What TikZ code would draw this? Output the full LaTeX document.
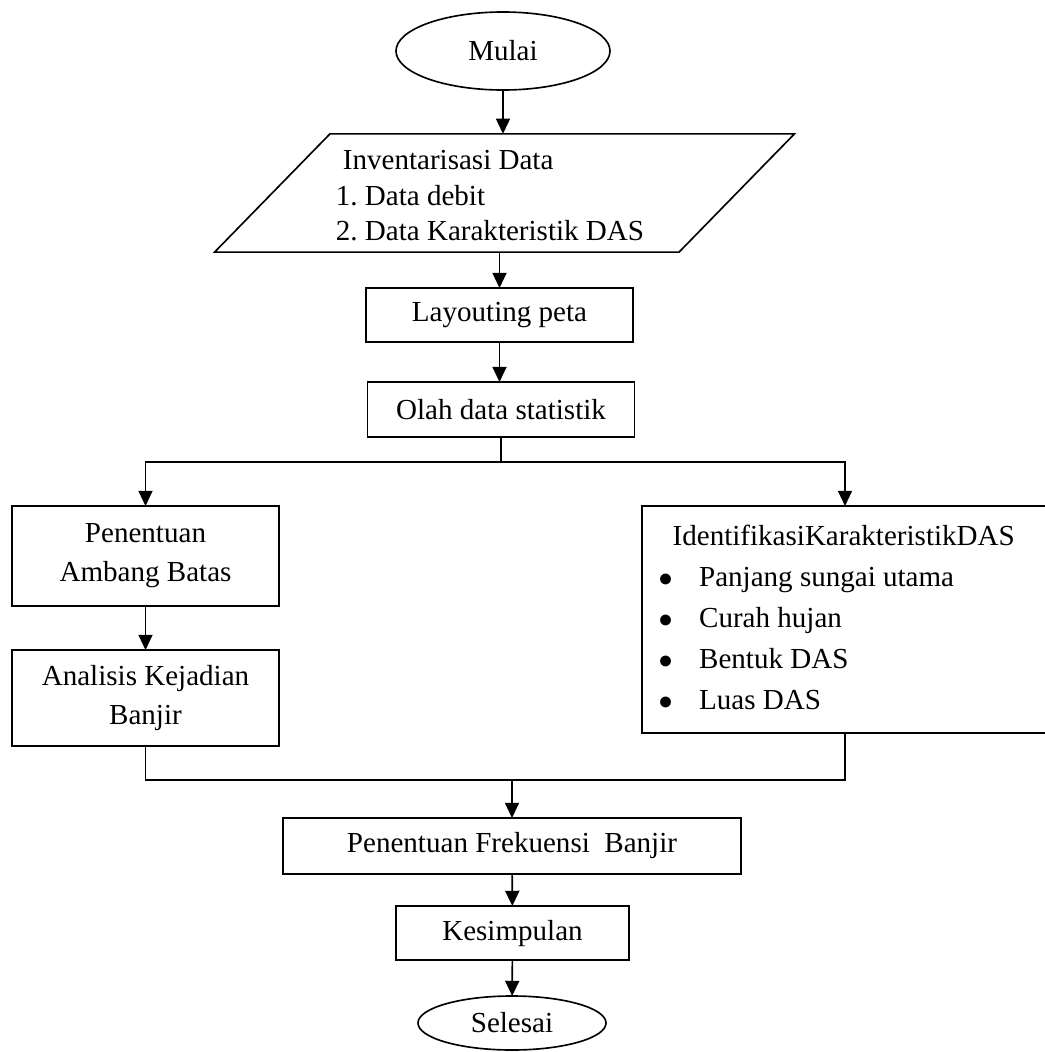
\documentclass[tikz,border=0pt]{standalone}
\usepackage{fontspec}
\setmainfont{Liberation Serif}
\usetikzlibrary{arrows.meta,shapes.geometric}

\begin{document}
\begin{tikzpicture}[x=0.015cm,y=-0.015cm,line width=0.7pt,
    every node/.style={font=\fontsize{12.4}{14.5}\selectfont,inner sep=0pt,outer sep=0pt},
    box/.style={draw,rectangle,align=center},
    term/.style={draw,ellipse},
    io/.style={draw,trapezium,trapezium left angle=45.7,trapezium right angle=134.3,inner xsep=2.5pt,inner ysep=0.6pt},
    arr/.style={-{Triangle[length=6.5pt,width=6pt]}}]
      \useasboundingbox (0,0) rectangle (1045,1052);
      \node[term,minimum width=3.21cm,minimum height=1.17cm] at (503,51) (mulai) {Mulai};
      \node[io,font=\fontsize{12.4}{15}\selectfont] at (504.5,193) (inv) {
        \begin{tabular}{@{}l@{\hspace{12.4pt}}}
          \rule{0pt}{14.8pt}\hspace{3pt}Inventarisasi Data \\
          1.\ Data debit \\
          2.\ Data Karakteristik DAS
        \end{tabular}
      };
      \node[box,minimum width=4.005cm,minimum height=0.81cm] at (499.5,315) (layout) {Layouting peta};
      \node[box,minimum width=4.0cm,minimum height=0.825cm] at (501,409.5) (olah) {Olah data statistik};
      \node[box,minimum width=4.005cm,minimum height=1.5cm,font=\fontsize{12.4}{16.6}\selectfont] at (145.5,556) (ambang) {Penentuan\\Ambang Batas};
      \node[box,minimum width=4.005cm,minimum height=1.44cm,font=\fontsize{12.4}{16.6}\selectfont] at (145.5,698) (analisis) {Analisis Kejadian\\Banjir};
      \node[box,minimum width=6.09cm,minimum height=3.405cm,font=\fontsize{12.4}{17.5}\selectfont] at (845,619.5) (ident) {
        \begin{tabular}{@{}l@{\hspace{11.3pt}}l@{}}
          \multicolumn{2}{@{\hspace{6pt}}l@{\hspace{4pt}}}{IdentifikasiKarakteristikDAS} \\
          $\bullet$ & Panjang sungai utama \\
          $\bullet$ & Curah hujan \\
          $\bullet$ & Bentuk DAS \\
          $\bullet$ & Luas DAS
        \end{tabular}
      };
      \node[box,minimum width=6.87cm,minimum height=0.84cm] at (512,846) (frek) {Penentuan Frekuensi\ \ Banjir};
      \node[box,minimum width=3.495cm,minimum height=0.81cm] at (512.5,933) (kesimpulan) {Kesimpulan};
      \node[term,minimum width=2.82cm,minimum height=0.81cm] at (512,1023) (selesai) {Selesai};
      \coordinate (split) at (olah.south |- 0,462);
      \coordinate (join) at (512,780);
      \draw[arr] (mulai.south) -- (mulai.south |- inv.north);
      \draw[arr] (layout.north |- inv.south) -- (layout.north);
      \draw[arr] (layout.south) -- (layout.south |- olah.north);
      \draw (olah.south) -- (split);
      \draw[arr] (split) -| (ambang.north);
      \draw[arr] (split) -| (ident.north);
      \draw[arr] (ambang) -- (analisis);
      \draw (analisis.south) |- (join -| ident.south) -- (ident.south);
      \draw[arr] (join) -- (frek);
      \draw[arr] (frek) -- (kesimpulan);
      \draw[arr] (kesimpulan) -- (selesai);
    \end{tikzpicture}
\end{document}
